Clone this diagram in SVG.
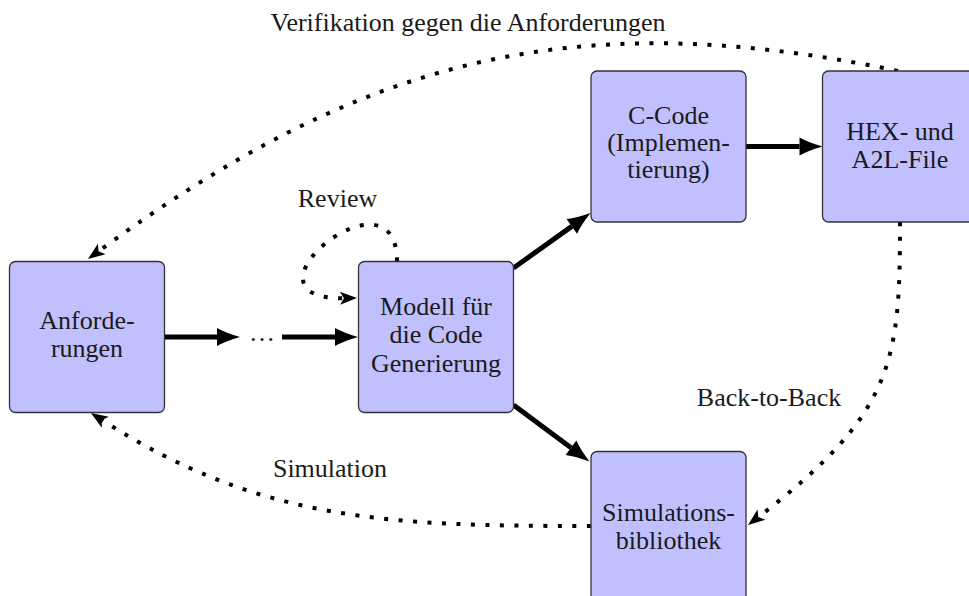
<svg xmlns="http://www.w3.org/2000/svg" width="969" height="596" viewBox="0 0 969 596">
  <style>
    .box { fill: #c0c0ff; stroke: #333333; stroke-width: 1.3; }
    .lbl { font-family: "Liberation Serif", "Times New Roman", serif; font-size: 26px; fill: #1a1a1a; text-anchor: middle; }
    .thick { fill: none; stroke: #000000; stroke-width: 5; marker-end: url(#head-thick); }
    .dots { fill: none; stroke: #000000; stroke-width: 4; stroke-dasharray: 4 10.5; marker-end: url(#head-dot); }
  </style>
  <defs>
    <!-- solid arrowhead: back edge sits at the path end -->
    <marker id="head-thick" markerUnits="userSpaceOnUse" markerWidth="26" markerHeight="22" viewBox="-1 -10 26 20" refX="0" refY="0" orient="auto">
      <path d="M23,0 Q9,-4 0,-9 L0,9 Q9,4 23,0 Z" fill="#000000"/>
    </marker>
    <!-- stealth arrowhead for dotted feedback paths -->
    <marker id="head-dot" markerUnits="userSpaceOnUse" markerWidth="20" markerHeight="16" viewBox="-1 -8 20 16" refX="4" refY="0" orient="auto">
      <path d="M17,0 L0,-6.5 L4,0 L0,6.5 Z" fill="#000000"/>
    </marker>
  </defs>

  <g id="connectors">
    <!-- main flow -->
    <path class="thick" d="M165,337 H217"/>
    <path class="thick" d="M282,337 H335"/>
    <path class="thick" d="M513.5,268 L571.8,226.4"/>
    <path class="thick" d="M513.5,405 L571,447.8"/>
    <path class="thick" d="M746,146.5 H799.5"/>
    <!-- feedback loops -->
    <path class="dots" d="M898,71 C560,0 350.5,67.3 98.5,251.3"/>
    <path class="dots" d="M397,261.5 C397,160 227,300 344,298.2"/>
    <path class="dots" d="M900,222 C900,360 895.3,412.1 758.3,517.1"/>
    <path class="dots" d="M591,526 C391,526 260.9,522 101.9,420"/>
  </g>

  <g id="edge-labels">
    <text class="lbl" x="468" y="31">Verifikation gegen die Anforderungen</text>
    <text class="lbl" x="337.5" y="207">Review</text>
    <text class="lbl" x="330" y="477">Simulation</text>
    <text class="lbl" x="769" y="406">Back-to-Back</text>
    <text class="lbl" x="262" y="341">…</text>
  </g>

  <g id="anforderungen">
    <rect class="box" x="9.5" y="261.5" width="155" height="151" rx="6"/>
    <text class="lbl" x="87" y="328.5">Anforde-</text>
    <text class="lbl" x="87" y="357">rungen</text>
  </g>

  <g id="modell">
    <rect class="box" x="358.5" y="261.5" width="155" height="151" rx="6"/>
    <text class="lbl" x="436" y="315">Modell für</text>
    <text class="lbl" x="436" y="343.3">die Code</text>
    <text class="lbl" x="436" y="371.7">Generierung</text>
  </g>

  <g id="c-code">
    <rect class="box" x="591" y="71" width="155" height="151" rx="6"/>
    <text class="lbl" x="668.5" y="123.5">C-Code</text>
    <text class="lbl" x="668.5" y="150.5">(Implemen-</text>
    <text class="lbl" x="668.5" y="177.5">tierung)</text>
  </g>

  <g id="hex-a2l">
    <rect class="box" x="822.5" y="71" width="155" height="151" rx="6"/>
    <text class="lbl" x="900" y="140">HEX- und</text>
    <text class="lbl" x="900" y="168">A2L-File</text>
  </g>

  <g id="simulationsbibliothek">
    <rect class="box" x="591" y="451.5" width="155" height="151" rx="6"/>
    <text class="lbl" x="668.5" y="520.5">Simulations-</text>
    <text class="lbl" x="668.5" y="549">bibliothek</text>
  </g>
</svg>
